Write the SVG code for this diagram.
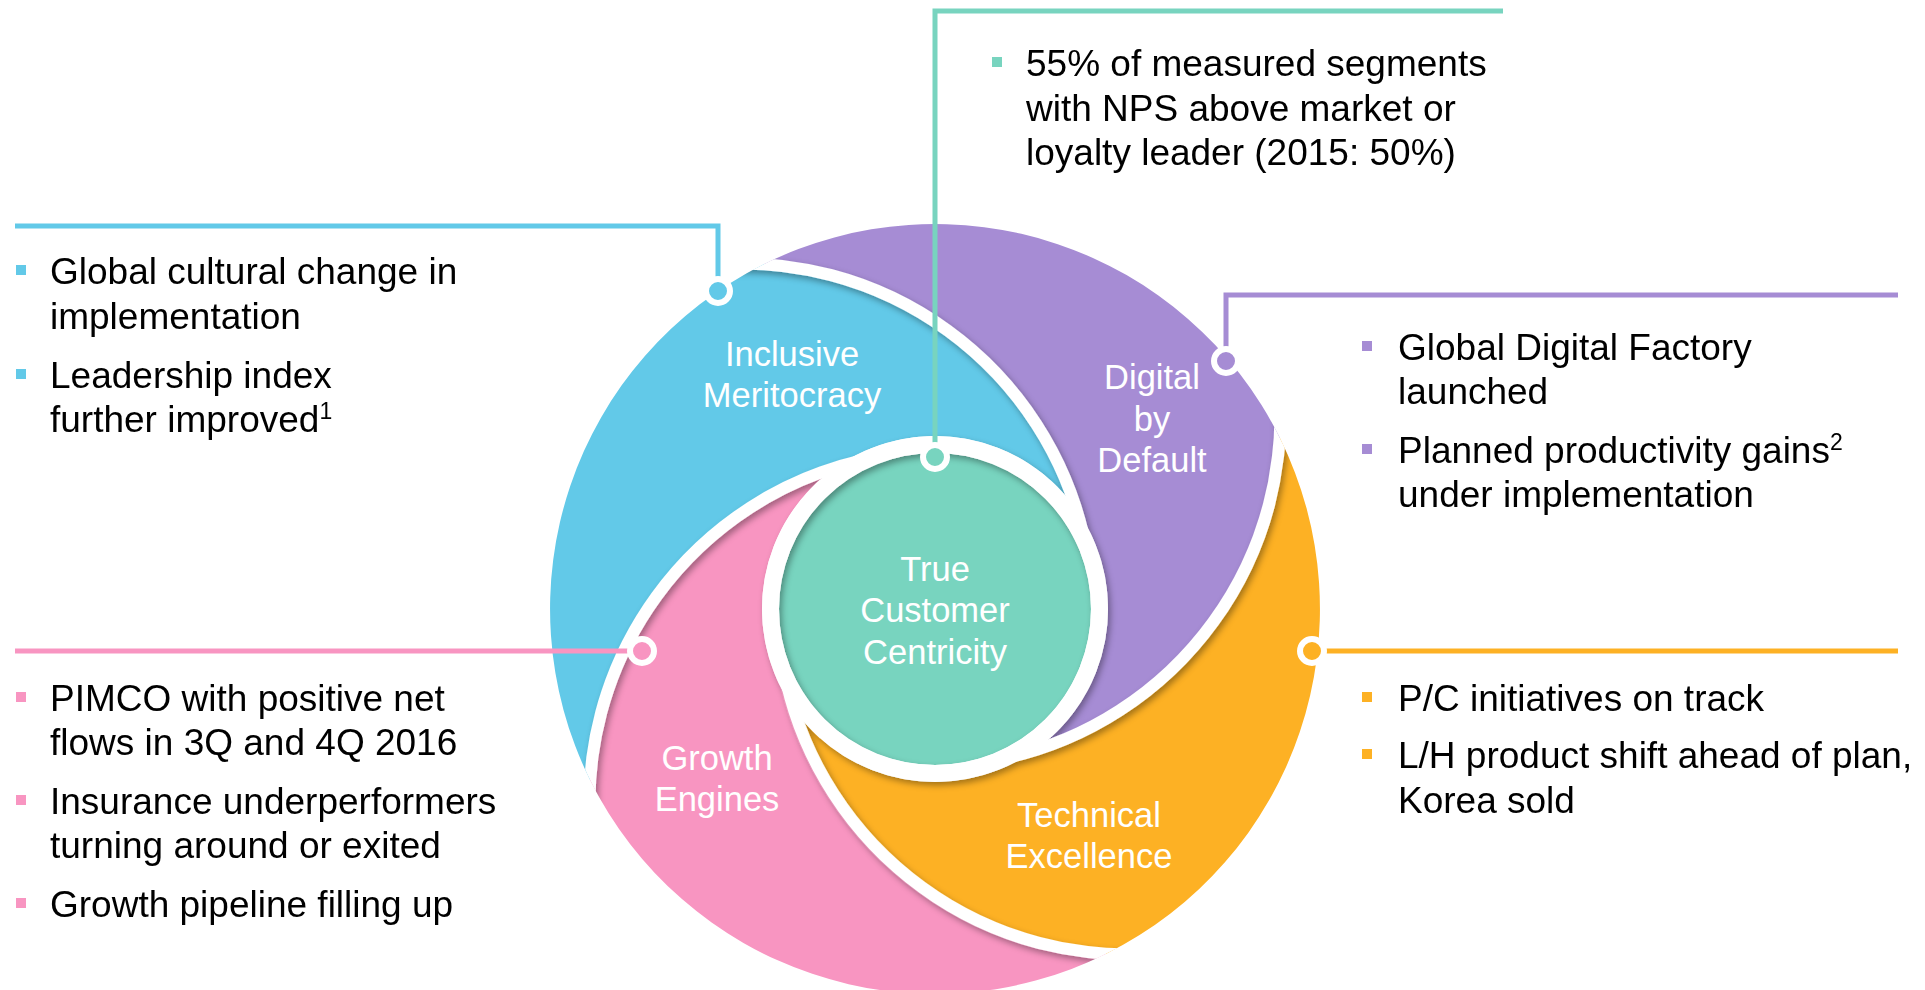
<svg xmlns="http://www.w3.org/2000/svg" width="1925" height="990" viewBox="0 0 1925 990">
<defs>
<style>
.lbl{font-family:"Liberation Sans",Arial,sans-serif;font-size:34.5px;fill:#fff;text-anchor:middle}
.txt{font-family:"Liberation Sans",Arial,sans-serif;font-size:37px;fill:#000}
.sup{font-size:23px}
.sep{fill:none;stroke:#fff;stroke-width:12}
.con{fill:none;stroke-width:5;stroke-linejoin:miter}
.dot{stroke:#fff;stroke-width:6}
</style>
<clipPath id="disk"><circle cx="935" cy="609" r="385"/></clipPath>
<filter id="sh" x="-10%" y="-10%" width="120%" height="120%">
<feDropShadow dx="2.5" dy="3.5" stdDeviation="3" flood-color="#000" flood-opacity="0.35"/>
</filter>
</defs>
<rect width="1925" height="990" fill="#fff"/>

<g id="inclusive-meritocracy">
<path fill="#62C9E8" d="M 590.2 780.2 A 385 385 0 0 1 763.8 264.2 A 351.3 351.3 0 0 1 1076.4 509.3 A 173 173 0 0 0 835.3 467.6 A 351.3 351.3 0 0 0 590.2 780.2 Z"/>
<text class="lbl" x="792" y="366">Inclusive</text>
<text class="lbl" x="792" y="407">Meritocracy</text>
</g>
<g id="digital-by-default">
<path fill="#A68CD4" transform="rotate(90 935 609)" d="M 590.2 780.2 A 385 385 0 0 1 763.8 264.2 A 351.3 351.3 0 0 1 1076.4 509.3 A 173 173 0 0 0 835.3 467.6 A 351.3 351.3 0 0 0 590.2 780.2 Z"/>
<text class="lbl" x="1152" y="389">Digital</text>
<text class="lbl" x="1152" y="431">by</text>
<text class="lbl" x="1152" y="472">Default</text>
</g>
<g id="technical-excellence">
<path fill="#FDB124" transform="rotate(180 935 609)" d="M 590.2 780.2 A 385 385 0 0 1 763.8 264.2 A 351.3 351.3 0 0 1 1076.4 509.3 A 173 173 0 0 0 835.3 467.6 A 351.3 351.3 0 0 0 590.2 780.2 Z"/>
<text class="lbl" x="1089" y="827">Technical</text>
<text class="lbl" x="1089" y="868">Excellence</text>
</g>
<g id="growth-engines">
<path fill="#F895C1" transform="rotate(270 935 609)" d="M 590.2 780.2 A 385 385 0 0 1 763.8 264.2 A 351.3 351.3 0 0 1 1076.4 509.3 A 173 173 0 0 0 835.3 467.6 A 351.3 351.3 0 0 0 590.2 780.2 Z"/>
<text class="lbl" x="717" y="770">Growth</text>
<text class="lbl" x="717" y="811">Engines</text>
</g>
<g id="true-customer-centricity">
<circle cx="935" cy="609" r="156" fill="#78D4BF"/>
<text class="lbl" x="935" y="581">True</text>
<text class="lbl" x="935" y="622">Customer</text>
<text class="lbl" x="935" y="664">Centricity</text>
</g>

<g id="separators" clip-path="url(#disk)" filter="url(#sh)">
<path class="sep" d="M 710.7 264.8 A 351.3 351.3 0 0 1 1083.6 535.8"/>
<path class="sep" transform="rotate(90 935 609)" d="M 710.7 264.8 A 351.3 351.3 0 0 1 1083.6 535.8"/>
<path class="sep" transform="rotate(180 935 609)" d="M 710.7 264.8 A 351.3 351.3 0 0 1 1083.6 535.8"/>
<path class="sep" transform="rotate(270 935 609)" d="M 710.7 264.8 A 351.3 351.3 0 0 1 1083.6 535.8"/>
<circle cx="935" cy="609" r="164.5" fill="none" stroke="#fff" stroke-width="17"/>
</g>

<g id="connectors">
<path class="con" stroke="#62C9E8" d="M718,291 V226 H15"/>
<circle class="dot" cx="718" cy="291" r="12" fill="#62C9E8"/>
<path class="con" stroke="#78D4BF" d="M935,457 V11 H1503"/>
<circle class="dot" cx="935" cy="457" r="12" fill="#78D4BF"/>
<path class="con" stroke="#A68CD4" d="M1226,361 V295 H1898"/>
<circle class="dot" cx="1226" cy="361" r="12" fill="#A68CD4"/>
<path class="con" stroke="#FDB124" d="M1312,651 H1898"/>
<circle class="dot" cx="1312" cy="651" r="12" fill="#FDB124"/>
<path class="con" stroke="#F895C1" d="M642,651 H15"/>
<circle class="dot" cx="642" cy="651" r="12" fill="#F895C1"/>
</g>

<g id="notes-meritocracy">
<rect x="16" y="265" width="10" height="10" fill="#62C9E8"/>
<text class="txt" x="50" y="284">Global cultural change in</text>
<text class="txt" x="50" y="329">implementation</text>
<rect x="16" y="369" width="10" height="10" fill="#62C9E8"/>
<text class="txt" x="50" y="388">Leadership index</text>
<text class="txt" x="50" y="432">further improved<tspan class="sup" dy="-13">1</tspan></text>
</g>
<g id="notes-customer">
<rect x="992" y="57" width="10" height="10" fill="#78D4BF"/>
<text class="txt" x="1026" y="76">55% of measured segments</text>
<text class="txt" x="1026" y="121">with NPS above market or</text>
<text class="txt" x="1026" y="165">loyalty leader (2015: 50%)</text>
</g>
<g id="notes-digital">
<rect x="1362" y="341" width="10" height="10" fill="#A68CD4"/>
<text class="txt" x="1398" y="360">Global Digital Factory</text>
<text class="txt" x="1398" y="404">launched</text>
<rect x="1362" y="444" width="10" height="10" fill="#A68CD4"/>
<text class="txt" x="1398" y="463">Planned productivity gains<tspan class="sup" dy="-13">2</tspan></text>
<text class="txt" x="1398" y="507">under implementation</text>
</g>
<g id="notes-technical">
<rect x="1362" y="692" width="10" height="10" fill="#FDB124"/>
<text class="txt" x="1398" y="711">P/C initiatives on track</text>
<rect x="1362" y="749" width="10" height="10" fill="#FDB124"/>
<text class="txt" x="1398" y="768">L/H product shift ahead of plan,</text>
<text class="txt" x="1398" y="813">Korea sold</text>
</g>
<g id="notes-growth">
<rect x="16" y="692" width="10" height="10" fill="#F895C1"/>
<text class="txt" x="50" y="711">PIMCO with positive net</text>
<text class="txt" x="50" y="755">flows in 3Q and 4Q 2016</text>
<rect x="16" y="795" width="10" height="10" fill="#F895C1"/>
<text class="txt" x="50" y="814">Insurance underperformers</text>
<text class="txt" x="50" y="858">turning around or exited</text>
<rect x="16" y="898" width="10" height="10" fill="#F895C1"/>
<text class="txt" x="50" y="917">Growth pipeline filling up</text>
</g>
</svg>
